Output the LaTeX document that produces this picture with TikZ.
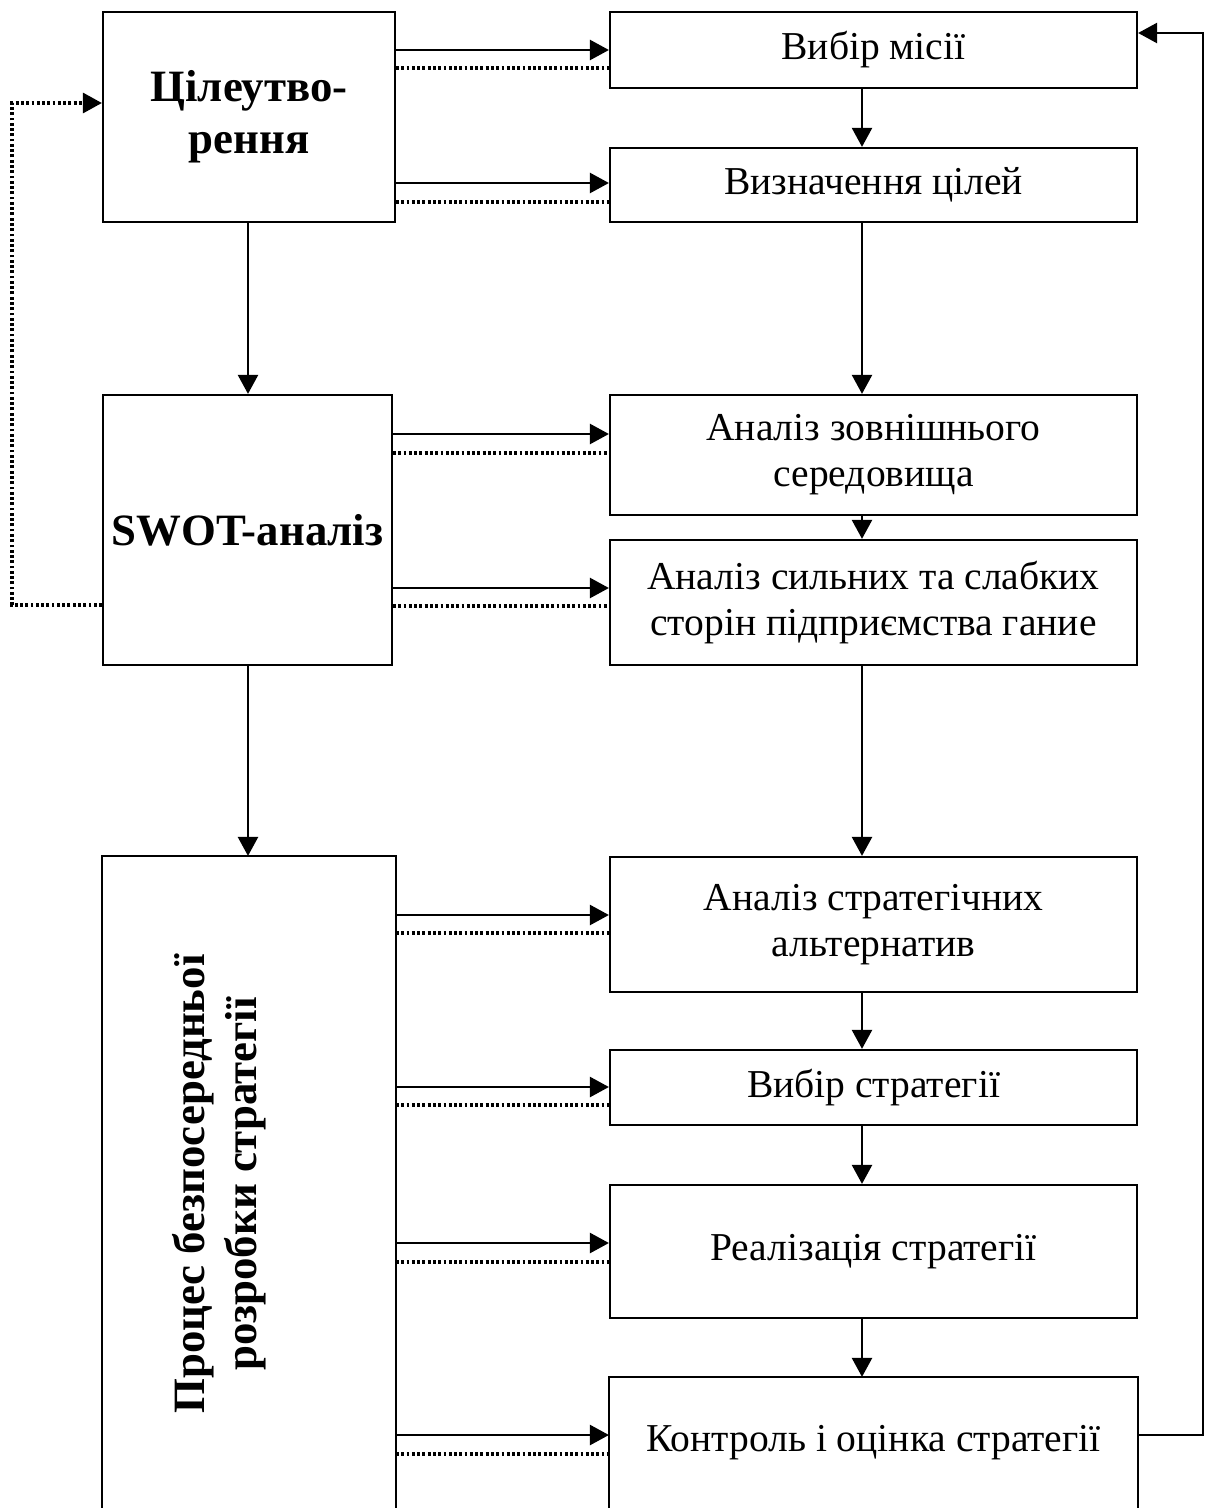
\documentclass[tikz,border=0pt]{standalone}
\usepackage{fontspec}
\setmainfont{Liberation Serif}
\usetikzlibrary{arrows.meta,calc}
\begin{document}
\begin{tikzpicture}[x=0.02cm,y=-0.02cm,
  box/.style={draw, line width=1.3pt, inner sep=2pt, align=center,
    font=\fontsize{22.5}{26.2}\selectfont},
  rbox/.style={box, minimum width=10.54cm},
  lbox/.style={box, minimum width=5.84cm, font=\fontsize{25.5}{27.5}\selectfont\bfseries},
  tip/.style={-{Triangle[length=0.38cm,width=0.40cm]}},
  arr/.style={line width=1.4pt, tip},
  fbline/.style={line width=1.8pt, dash pattern=on 1.6pt off 1.4pt},
  edge/.style={line width=1.3pt}]
\useasboundingbox (0,0) rectangle (1205,1508);
\fill[white] (0,0) rectangle (1205,1508);

% left boxes
\node[lbox, minimum height=4.2cm] (l1) at (249,117) {Цілеутво-\\[2pt]рення};
\node[lbox, minimum height=5.4cm, minimum width=5.78cm] (l2) at (247.5,530) {SWOT-аналіз};
\node[lbox, draw=none, minimum height=13.02cm] (l3) at (249,1182.5) {};
\draw[edge] ([yshift=-0.5cm]l3.south west) -- (l3.north west) -- (l3.north east) -- ([yshift=-0.5cm]l3.south east);
\node[font=\fontsize{25.5}{29.6}\selectfont\bfseries, align=center, rotate=90, inner sep=0pt] (l3text) at (219,1184)
  {Процес безпосередньої\\розробки стратегії};

% right boxes
\node[rbox, minimum height=1.52cm] (r1) at (873.5,50) {Вибір місії};
\node[rbox, minimum height=1.48cm] (r2) at (873.5,185) {Визначення цілей};
\node[rbox, minimum height=2.4cm] (r3) at (873.5,455) {Аналіз зовнішнього\\середовища};
\node[rbox, minimum height=2.5cm] (r4) at (873.5,602.5) {Аналіз сильних та слабких\\сторін підприємства гание};
\node[rbox, minimum height=2.7cm] (r5) at (873.5,924.5) {Аналіз стратегічних\\альтернатив};
\node[rbox, minimum height=1.5cm] (r6) at (873.5,1087.5) {Вибір стратегії};
\node[rbox, minimum height=2.66cm] (r7) at (873.5,1251.5) {Реалізація стратегії};
\node[rbox, draw=none, minimum height=2.6cm] (r8) at (873.5,1443) {Контроль і оцінка стратегії};
\draw[edge] ([yshift=-0.5cm]r8.south west) -- (r8.north west) -- (r8.north east) -- ([yshift=-0.5cm]r8.south east);

% vertical arrows on the right
\draw[arr] (r1.south -| 862,0) -- (r2.north -| 862,0);
\draw[arr] (r2.south -| 862,0) -- (r3.north -| 862,0);
\draw[arr] (r3.south -| 862,0) -- (r4.north -| 862,0);
\draw[arr] (r4.south -| 862,0) -- (r5.north -| 862,0);
\draw[arr] (r5.south -| 862,0) -- (r6.north -| 862,0);
\draw[arr] (r6.south -| 862,0) -- (r7.north -| 862,0);
\draw[arr] (r7.south -| 862,0) -- (r8.north -| 862,0);

% vertical arrows on the left
\draw[arr] (l1.south -| 248,0) -- (l2.north -| 248,0);
\draw[arr] (l2.south -| 248,0) -- (l3.north -| 248,0);

% horizontal arrows and dotted returns
\draw[arr] (l1.east |- 0,50) -- (r1.west |- 0,50);
\draw[fbline] (l1.east |- 0,68) -- (r1.west |- 0,68);
\draw[arr] (l1.east |- 0,183) -- (r2.west |- 0,183);
\draw[fbline] (l1.east |- 0,202) -- (r2.west |- 0,202);

\draw[arr] (l2.east |- 0,434) -- (r3.west |- 0,434);
\draw[fbline] (l2.east |- 0,453) -- (r3.west |- 0,453);
\draw[arr] (l2.east |- 0,588) -- (r4.west |- 0,588);
\draw[fbline] (l2.east |- 0,606) -- (r4.west |- 0,606);

\draw[arr] (l3.east |- 0,915) -- (r5.west |- 0,915);
\draw[fbline] (l3.east |- 0,933) -- (r5.west |- 0,933);
\draw[arr] (l3.east |- 0,1087) -- (r6.west |- 0,1087);
\draw[fbline] (l3.east |- 0,1105) -- (r6.west |- 0,1105);
\draw[arr] (l3.east |- 0,1243) -- (r7.west |- 0,1243);
\draw[fbline] (l3.east |- 0,1262) -- (r7.west |- 0,1262);
\draw[arr] (l3.east |- 0,1435) -- (r8.west |- 0,1435);
\draw[fbline] (l3.east |- 0,1454) -- (r8.west |- 0,1454);

% feedback loops
\draw[fbline, tip] (l2.west |- 0,605) -- (12,605) -- (12,103) -- (l1.west |- 0,103);
\draw[arr] (r8.east |- 0,1435) -- (1203,1435) -- (1203,33) -- (r1.east |- 0,33);
\end{tikzpicture}
\end{document}
